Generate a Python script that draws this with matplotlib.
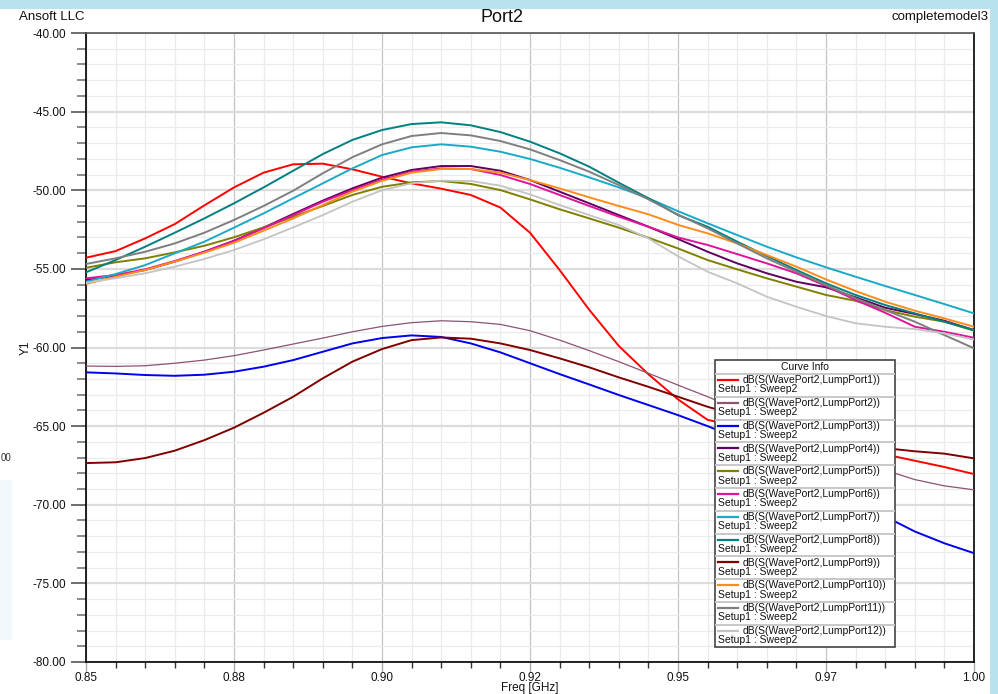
import matplotlib
matplotlib.use("Agg")
import matplotlib.pyplot as plt
from matplotlib.patches import Rectangle
from matplotlib.lines import Line2D
from matplotlib.ticker import FixedLocator, MultipleLocator

plt.rcParams['font.family'] = ['Liberation Sans', 'DejaVu Sans']

# ---------------- data ----------------
freq = [0.850, 0.855, 0.860, 0.865, 0.870, 0.875, 0.880, 0.885, 0.890, 0.895,
        0.900, 0.905, 0.910, 0.915, 0.920, 0.925, 0.930, 0.935, 0.940, 0.945,
        0.950, 0.955, 0.960, 0.965, 0.970, 0.975, 0.980, 0.985, 0.990, 0.995, 1.000]

lump1 = [-54.29, -53.87, -53.06, -52.15, -50.96, -49.82, -48.88, -48.35, -48.31, -48.67,
         -49.14, -49.56, -49.90, -50.30, -51.10, -52.70, -55.07, -57.60, -59.90, -61.70,
         -63.30, -64.60, -65.00, -65.40, -65.75, -66.05, -66.40, -66.80, -67.20, -67.60, -68.05]
lump2 = [-61.18, -61.20, -61.16, -61.00, -60.80, -60.52, -60.16, -59.78, -59.40, -59.00,
         -58.66, -58.42, -58.30, -58.36, -58.53, -58.93, -59.53, -60.20, -60.90, -61.64,
         -62.39, -63.13, -63.90, -64.65, -65.40, -66.20, -67.00, -67.80, -68.40, -68.80, -69.05]
lump3 = [-61.58, -61.65, -61.75, -61.80, -61.73, -61.54, -61.22, -60.80, -60.27, -59.74,
         -59.40, -59.23, -59.33, -59.74, -60.31, -61.00, -61.69, -62.35, -63.02, -63.66,
         -64.30, -65.00, -65.75, -66.65, -67.60, -68.60, -69.60, -70.75, -71.70, -72.45, -73.08]
lump4 = [-55.71, -55.43, -55.07, -54.54, -53.91, -53.21, -52.38, -51.51, -50.66, -49.88,
         -49.20, -48.71, -48.46, -48.46, -48.76, -49.35, -50.09, -50.83, -51.58, -52.32,
         -53.10, -53.91, -54.65, -55.28, -55.82, -56.17, -56.81, -57.47, -57.87, -58.30, -58.89]
lump5 = [-54.93, -54.58, -54.33, -53.95, -53.53, -52.99, -52.36, -51.68, -51.00, -50.30,
         -49.78, -49.50, -49.41, -49.60, -49.99, -50.58, -51.21, -51.79, -52.38, -53.02,
         -53.70, -54.44, -55.03, -55.60, -56.13, -56.66, -57.03, -57.62, -58.04, -58.36, -58.93]
lump6 = [-55.60, -55.39, -55.03, -54.50, -53.91, -53.23, -52.42, -51.58, -50.73, -49.99,
         -49.33, -48.82, -48.61, -48.65, -49.03, -49.60, -50.30, -51.00, -51.68, -52.32,
         -53.00, -53.48, -54.06, -54.65, -55.28, -56.09, -56.98, -57.79, -58.68, -59.00, -59.38]
lump7 = [-55.82, -55.33, -54.76, -54.01, -53.27, -52.38, -51.47, -50.51, -49.56, -48.61,
         -47.76, -47.27, -47.08, -47.23, -47.55, -48.01, -48.57, -49.18, -49.82, -50.51,
         -51.33, -52.10, -52.85, -53.59, -54.27, -54.90, -55.50, -56.09, -56.66, -57.24, -57.83]
lump8 = [-55.22, -54.44, -53.59, -52.70, -51.79, -50.83, -49.82, -48.76, -47.70, -46.80,
         -46.17, -45.79, -45.68, -45.87, -46.30, -46.91, -47.65, -48.50, -49.52, -50.51,
         -51.58, -52.32, -53.27, -54.18, -55.07, -55.92, -56.66, -57.30, -57.83, -58.36, -58.89]
lump9 = [-67.35, -67.30, -67.03, -66.56, -65.89, -65.10, -64.15, -63.13, -61.96, -60.90,
         -60.10, -59.53, -59.36, -59.44, -59.74, -60.16, -60.69, -61.26, -61.90, -62.50,
         -63.13, -63.77, -64.30, -64.80, -65.30, -65.70, -66.10, -66.40, -66.60, -66.75, -67.05]
lump10 = [-55.96, -55.50, -55.07, -54.54, -53.97, -53.34, -52.57, -51.79, -50.94, -50.09,
          -49.40, -48.88, -48.65, -48.65, -48.88, -49.35, -49.88, -50.45, -51.00, -51.53,
          -52.20, -52.74, -53.38, -54.12, -54.86, -55.67, -56.41, -57.09, -57.66, -58.15, -58.68]
lump11 = [-54.69, -54.33, -53.91, -53.38, -52.70, -51.89, -51.00, -50.03, -48.92, -47.90,
          -47.08, -46.55, -46.36, -46.51, -46.87, -47.40, -48.08, -48.82, -49.67, -50.58,
          -51.55, -52.42, -53.38, -54.33, -55.18, -56.03, -56.87, -57.62, -58.36, -59.21, -60.05]
lump12 = [-55.88, -55.60, -55.28, -54.86, -54.37, -53.80, -53.12, -52.36, -51.58, -50.73,
          -50.00, -49.56, -49.39, -49.41, -49.71, -50.26, -50.94, -51.58, -52.21, -53.06,
          -54.20, -55.18, -55.92, -56.77, -57.41, -58.00, -58.46, -58.68, -58.83, -59.10, -59.50]

series = [lump1, lump2, lump3, lump4, lump5, lump6, lump7, lump8, lump9, lump10, lump11, lump12]
names = ["dB(S(WavePort2,LumpPort%d))" % i for i in range(1, 13)]
setup_label = "Setup1 : Sweep2"
colors = ["#FF0000", "#8E5273", "#0000EE", "#600060", "#808000", "#E0149B",
          "#1AAAC8", "#008080", "#800000", "#FF8C1A", "#7F7F7F", "#C4C4C4"]
widths = [1.4, 0.9, 1.4, 1.4, 1.4, 1.4, 1.4, 1.4, 1.4, 1.4, 1.4, 1.3]

xtick_vals = [0.85, 0.875, 0.90, 0.925, 0.95, 0.975, 1.00]
xtick_labels = ["0.85", "0.88", "0.90", "0.92", "0.95", "0.97", "1.00"]
ytick_vals = [-80, -75, -70, -65, -60, -55, -50, -45, -40]
ytick_labels = ["%.2f" % v for v in ytick_vals]

# ---------------- figure ----------------
W, H = 998, 694
fig = plt.figure(figsize=(W / 100, H / 100), dpi=100)
fig.patch.set_facecolor("white")

def fx(px):
    return px / W

def fy(py):
    return 1 - py / H

# screenshot background bands
fig.add_artist(Rectangle((0, fy(8.5)), 1, 8.5 / H, transform=fig.transFigure,
                         facecolor="#B8E2EC", edgecolor="none", zorder=0))
fig.add_artist(Rectangle((fx(990), 0), 8 / W, fy(8.5), transform=fig.transFigure,
                         facecolor="#B8E2EC", edgecolor="none", zorder=0))
fig.add_artist(Rectangle((0, fy(640)), 12 / W, 160 / H, transform=fig.transFigure,
                         facecolor="#F2F9FB", edgecolor="none", zorder=0))
fig.text(fx(0.5), fy(458), "00", ha="left", va="center", fontsize=7, color="#333333")

ax = fig.add_axes([fx(86), fy(662), (974 - 86) / W, (662 - 33) / H])
ax.set_xlim(0.85, 1.0)
ax.set_ylim(-80, -40)

for ys, c, lw in zip(series, colors, widths):
    ax.plot(freq, ys, color=c, lw=lw, zorder=3, solid_joinstyle="round")

# ticks
ax.xaxis.set_major_locator(FixedLocator(xtick_vals))
ax.set_xticklabels(xtick_labels)
ax.xaxis.set_minor_locator(MultipleLocator(0.005))
ax.yaxis.set_major_locator(FixedLocator(ytick_vals))
ax.set_yticklabels(ytick_labels)
ax.yaxis.set_minor_locator(MultipleLocator(1))

ax.tick_params(axis="y", which="major", length=11, width=1.2, color="#555555",
               labelsize=8.5, pad=3.5, labelcolor="#111111")
ax.tick_params(axis="y", which="minor", length=6.5, width=1.2, color="#777777")
ax.tick_params(axis="x", which="major", length=7, width=1.0, color="#AAAAAA",
               labelsize=8.5, pad=0.5, labelcolor="#111111")
ax.tick_params(axis="x", which="minor", length=4, width=1.0, color="#333333")

# grid
ax.grid(True, which="minor", color="#EBEBEB", lw=0.9, zorder=0)
ax.xaxis.grid(True, which="major", color="#C4C4C4", lw=0.9)
ax.yaxis.grid(True, which="major", color="#DCDCDC", lw=1.6)
ax.set_axisbelow(True)

for side in ["left", "bottom", "right"]:
    ax.spines[side].set_color("#000000")
    ax.spines[side].set_linewidth(1.2)
ax.spines["top"].set_color("#555555")
ax.spines["top"].set_linewidth(1.2)

ax.set_xlabel("Freq [GHz]", fontsize=8.5, color="#111111", va="center")
ax.xaxis.set_label_coords(0.5, -(688 - 662) / (662 - 33))
ax.set_ylabel("Y1", fontsize=8.5, color="#111111", va="center")
ax.yaxis.set_label_coords(-(86 - 26) / (974 - 86), 0.5)

# header texts
fig.text(fx(19), fy(17), "Ansoft LLC", ha="left", va="center", fontsize=9.5, color="#111111")
fig.text(fx(502), fy(18), "Port2", ha="center", va="center", fontsize=13, color="#111111")
fig.text(fx(988), fy(17), "completemodel3", ha="right", va="center", fontsize=9.5, color="#111111")

# ---------------- legend (Curve Info) ----------------
lx0, lx1, ly0, ly1 = 715, 895, 360, 647
fig.add_artist(Rectangle((fx(lx0), fy(ly1)), (lx1 - lx0) / W, (ly1 - ly0) / H,
                         transform=fig.transFigure, facecolor="white",
                         edgecolor="#444444", lw=1.2, zorder=5))
fig.text(fx((lx0 + lx1) / 2), fy(366.5), "Curve Info", ha="center", va="center",
         fontsize=7.5, color="#111111", zorder=7)
row_h = 22.8
top0 = 374.0
for k in range(len(series)):
    top = top0 + k * row_h
    fig.add_artist(Line2D([fx(lx0 + 1), fx(lx1 - 1)], [fy(top), fy(top)],
                          transform=fig.transFigure, color="#C8C8C8", lw=1.4, zorder=6))
    fig.add_artist(Line2D([fx(718), fx(738)], [fy(top + 6), fy(top + 6)],
                          transform=fig.transFigure, color=colors[k], lw=1.6, zorder=6))
    fig.text(fx(743), fy(top + 6.3), names[k], ha="left", va="center",
             fontsize=7.5, color="#111111", zorder=7)
    fig.text(fx(717.5), fy(top + 15.5), setup_label, ha="left", va="center",
             fontsize=7.5, color="#111111", zorder=7)

fig.savefig("out.png", dpi=100)
